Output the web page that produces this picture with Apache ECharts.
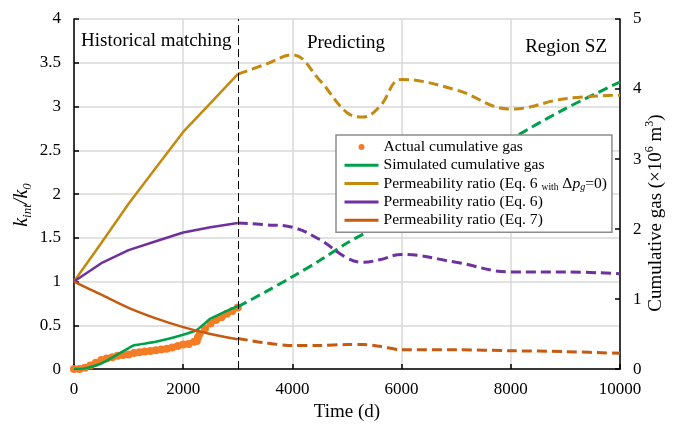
<!DOCTYPE html>
<html>
<head>
<meta charset="utf-8">
<script src="https://cdn.jsdelivr.net/npm/echarts@6/dist/echarts.min.js"></script>
<style>
html,body{margin:0;padding:0;background:#fff;}
#chart{width:683px;height:427px;}
</style>
</head>
<body>
<div id="chart"></div>
<script>
// ---------------- data ----------------
const xTicks = [0, 2000, 4000, 6000, 8000, 10000];

// historical matching period (solid lines)
const histDays = [0, 500, 1000, 1500, 2000, 2500, 3000];
const ratioEq6NoDp_hist = [1.00, 1.44, 1.89, 2.30, 2.71, 3.04, 3.37];
const ratioEq6_hist     = [1.00, 1.21, 1.36, 1.46, 1.56, 1.62, 1.67];
const ratioEq7_hist     = [1.00, 0.85, 0.70, 0.58, 0.48, 0.40, 0.34];

// prediction period (dashed lines)
const predDays = [3000, 3500, 4000, 4500, 5000, 5300, 5600, 6000, 7000, 8000, 9000, 10000];
const ratioEq6NoDp_pred = [3.37, 3.48, 3.59, 3.30, 2.93, 2.88, 3.00, 3.31, 3.19, 2.97, 3.09, 3.13];
const ratioEq6_pred     = [1.67, 1.65, 1.62, 1.48, 1.27, 1.22, 1.25, 1.31, 1.22, 1.11, 1.11, 1.09];
const ratioEq7_pred     = [0.35, 0.30, 0.27, 0.27, 0.28, 0.28, 0.26, 0.22, 0.22, 0.21, 0.20, 0.18];
const simGas_pred       = [0.89, 1.10, 1.32, 1.55, 1.80, 1.93, 2.06, 2.28, 2.78, 3.28, 3.72, 4.10];

// simulated cumulative gas, history (x10^6 m3)
const simGasDays = [0, 200, 500, 800, 1000, 1100, 1500, 2000, 2250, 2500, 3000];
const simGas_hist = [0.00, 0.01, 0.08, 0.21, 0.30, 0.34, 0.39, 0.49, 0.56, 0.72, 0.90];

// actual cumulative gas (x10^6 m3)
const actDays = [0, 100, 200, 300, 400, 500, 600, 700, 800, 900, 1000, 1100, 1200, 1300, 1400, 1500,
                 1600, 1700, 1800, 1900, 2000, 2100, 2200, 2250, 2270, 2300, 2400, 2500, 2600, 2700, 2800, 2900, 3000];
const actGas = [0.00, 0.00, 0.02, 0.05, 0.09, 0.13, 0.15, 0.17, 0.19, 0.20, 0.21, 0.23, 0.24, 0.25, 0.26, 0.27,
                0.28, 0.29, 0.31, 0.33, 0.35, 0.36, 0.39, 0.40, 0.45, 0.50, 0.58, 0.65, 0.70, 0.74, 0.79, 0.83, 0.88];

// ---------------- helpers ----------------
const zip = (xs, ys) => xs.map((x, i) => [x, ys[i]]);
const FONT = 'Liberation Serif';
const C_GOLD = '#C48A10', C_PURPLE = '#7030A0', C_RED = '#C55A11', C_GREEN = '#00A04A', C_ORANGE = '#F47C25';
const N_ACT = 'Actual cumulative gas';
const N_SIM = 'Simulated cumulative gas';
const N_GOLD = 'Permeability ratio (Eq. 6 with Δpg=0)';
const N_PUR = 'Permeability ratio (Eq. 6)';
const N_RED = 'Permeability ratio (Eq. 7)';

const dash = [10, 5];

function solid(name, data, color, yIdx, smooth) {
  return { name, type: 'line', data, yAxisIndex: yIdx, symbol: 'none', showSymbol: false, smooth: smooth || false,
    lineStyle: { color, width: 2.5 }, itemStyle: { color }, z: 3 };
}
function dashed(name, data, color, yIdx, smooth) {
  return { name, type: 'line', data, yAxisIndex: yIdx, symbol: 'none', showSymbol: false, smooth: smooth,
    lineStyle: { color, width: 3, type: dash }, itemStyle: { color }, z: 3 };
}

const chart = echarts.init(document.getElementById('chart'), null, { renderer: 'canvas' });

const hideSym = { opacity: 0 };

const option = {
  animation: false,
  backgroundColor: '#fff',
  grid: { left: 74, right: 63, top: 19, bottom: 54, containLabel: false },
  xAxis: {
    type: 'value', min: 0, max: 10000, interval: 2000,
    name: 'Time (d)', nameLocation: 'middle', nameGap: 31,
    nameTextStyle: { fontFamily: FONT, fontSize: 19, color: '#000' },
    axisLine: { lineStyle: { color: '#000', width: 1.5 } },
    axisTick: { inside: true, length: 5, lineStyle: { color: '#000', width: 1.5 } },
    axisLabel: { fontFamily: FONT, fontSize: 17, color: '#000', margin: 12,
      formatter: v => xTicks.includes(v) ? String(v) : '' },
    splitLine: { show: true, lineStyle: { color: '#d9d9d9', width: 1.5 } }
  },
  yAxis: [
    {
      type: 'value', min: 0, max: 4, interval: 0.5, position: 'left',
      axisLine: { show: true, lineStyle: { color: '#000', width: 1.5 } },
      axisTick: { show: true, inside: true, length: 5, lineStyle: { color: '#000', width: 1.5 } },
      axisLabel: { fontFamily: FONT, fontSize: 17, color: '#000', margin: 13 },
      splitLine: { show: true, lineStyle: { color: '#d9d9d9', width: 1.5 } }
    },
    {
      type: 'value', min: 0, max: 5, interval: 1, position: 'right',
      axisLine: { show: true, lineStyle: { color: '#000', width: 1.5 } },
      axisTick: { show: true, inside: true, length: 5, lineStyle: { color: '#000', width: 1.5 } },
      axisLabel: { fontFamily: FONT, fontSize: 17, color: '#000', margin: 13 },
      splitLine: { show: false }
    }
  ],
  legend: {
    orient: 'vertical', left: 336, top: 135,
    padding: [3, 5, 3, 7],
    itemWidth: 34, itemHeight: 6, itemGap: 0.3,
    backgroundColor: '#fff', borderColor: '#8c8c8c', borderWidth: 1.5,
    lineStyle: { type: 'solid', width: 3 },
    data: [
      { name: N_ACT, icon: 'circle', itemStyle: { opacity: 1 } },
      { name: N_SIM, itemStyle: hideSym },
      { name: N_GOLD, itemStyle: hideSym },
      { name: N_PUR, itemStyle: hideSym },
      { name: N_RED, itemStyle: hideSym }
    ],
    textStyle: {
      fontFamily: FONT, fontSize: 15.6, color: '#000', lineHeight: 18,
      rich: {
        sm: { fontFamily: FONT, fontSize: 9.5, color: '#000', lineHeight: 12, verticalAlign: 'bottom' },
        it: { fontFamily: FONT, fontSize: 15.6, fontStyle: 'italic', color: '#000', lineHeight: 18 },
        sub: { fontFamily: FONT, fontSize: 10, fontStyle: 'italic', color: '#000', lineHeight: 12, verticalAlign: 'bottom' }
      }
    },
    formatter: function (name) {
      if (name === N_GOLD) return 'Permeability ratio (Eq. 6 {sm|with} Δ{it|p}{sub|g}=0)';
      return name;
    }
  },
  graphic: [
    { type: 'text', left: 81, top: 32, z: 10, silent: true,
      style: { text: 'Historical matching', fontFamily: FONT, fontSize: 19, fill: '#000' } },
    { type: 'text', x: 346, y: 43, z: 10, silent: true,
      style: { text: 'Predicting', fontFamily: FONT, fontSize: 19, fill: '#000', align: 'center', verticalAlign: 'middle' } },
    { type: 'text', x: 607, y: 47, z: 10, silent: true,
      style: { text: 'Region SZ', fontFamily: FONT, fontSize: 19, fill: '#000', align: 'right', verticalAlign: 'middle' } },
    { type: 'text', x: 22, y: 205, rotation: Math.PI / 2, z: 10, silent: true,
      style: {
        text: '{i|k}{s|int}{i|/k}{s0|0}', align: 'center', verticalAlign: 'middle',
        rich: {
          i: { fontFamily: FONT, fontSize: 20, fontStyle: 'italic', fill: '#000', lineHeight: 24 },
          s: { fontFamily: FONT, fontSize: 13, fontStyle: 'italic', fill: '#000', lineHeight: 13, verticalAlign: 'bottom' },
          s0: { fontFamily: FONT, fontSize: 13, fontStyle: 'italic', fill: '#000', lineHeight: 13, verticalAlign: 'bottom' }
        }
      } },
    { type: 'text', x: 656, y: 213, rotation: Math.PI / 2, z: 10, silent: true,
      style: {
        text: '{a|Cumulative gas (×10}{p|6}{a| m}{p|3}{a|)}', align: 'center', verticalAlign: 'middle',
        rich: {
          a: { fontFamily: FONT, fontSize: 19, fill: '#000', lineHeight: 24 },
          p: { fontFamily: FONT, fontSize: 12, fill: '#000', lineHeight: 14, verticalAlign: 'top' }
        }
      } }
  ],
  series: [
    {
      name: N_ACT, type: 'scatter', yAxisIndex: 1, data: zip(actDays, actGas),
      symbol: 'circle', symbolSize: 8, itemStyle: { color: C_ORANGE, opacity: 1 }, z: 2
    },
    solid(N_SIM, zip(simGasDays, simGas_hist), C_GREEN, 1, 0.2),
    Object.assign(solid(N_GOLD, zip(histDays, ratioEq6NoDp_hist), C_GOLD, 0, false), {
      markLine: {
        silent: true, symbol: 'none', label: { show: false },
        lineStyle: { color: '#000', type: [8, 4], width: 1 },
        data: [{ xAxis: 3000 }]
      }
    }),
    solid(N_PUR, zip(histDays, ratioEq6_hist), C_PURPLE, 0, false),
    solid(N_RED, zip(histDays, ratioEq7_hist), C_RED, 0, 0.3),
    dashed(N_SIM, zip(predDays, simGas_pred), C_GREEN, 1, 0.3),
    dashed(N_GOLD, zip(predDays, ratioEq6NoDp_pred), C_GOLD, 0, 0.4),
    dashed(N_PUR, zip(predDays, ratioEq6_pred), C_PURPLE, 0, 0.4),
    dashed(N_RED, zip(predDays, ratioEq7_pred), C_RED, 0, 0.3)
  ]
};
chart.setOption(option);
</script>
</body>
</html>
